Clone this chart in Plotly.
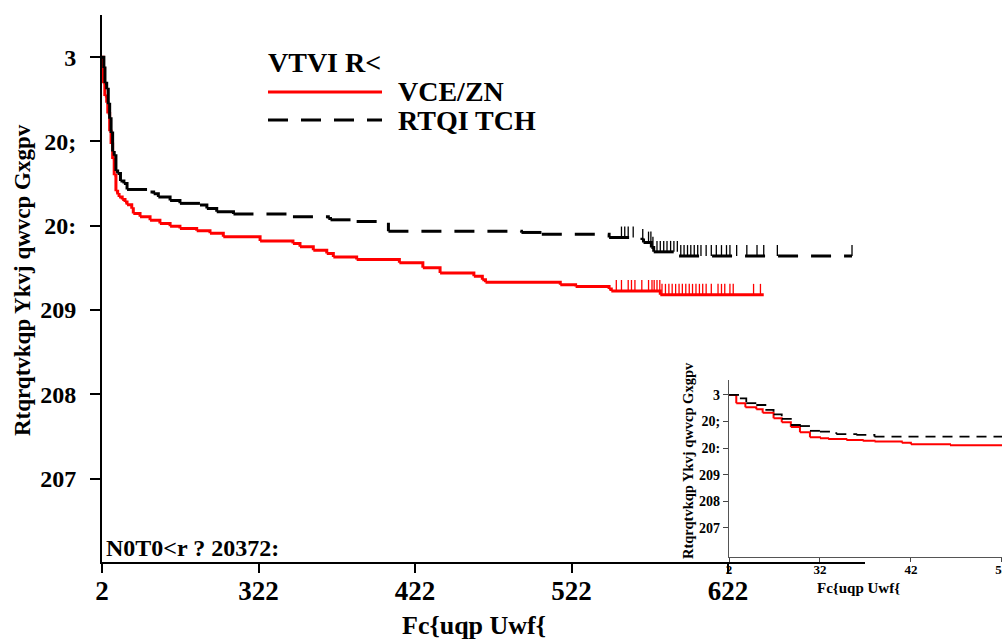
import numpy as np
import plotly.graph_objects as go

# ---------------- data ----------------
black_t = [0, 1.2, 1.9, 3.0, 4.0, 4.9, 5.8, 6.8, 7.8, 8.9, 10.0, 11.8, 14.0, 16.0, 31, 33, 36,
           43.5, 49.8, 62.6, 67, 73.3, 84, 122, 144.6, 146, 162.7, 183, 268, 281, 324, 345,
           346, 351, 352.5, 368.7]
black_s = [1.0, 0.987, 0.969, 0.962, 0.944, 0.927, 0.910, 0.887, 0.883, 0.865, 0.862, 0.853,
           0.850, 0.843, 0.840, 0.838, 0.834, 0.830, 0.8265, 0.8245, 0.8205, 0.8165, 0.814,
           0.8105, 0.8087, 0.807, 0.805, 0.7934, 0.792, 0.790, 0.786, 0.783, 0.780, 0.774,
           0.769, 0.764]
black_end = 479.2
black_cens = [331.9, 334, 336.2, 339.4, 345.5, 349.2, 350.7, 352, 354.6, 356.7, 358.9, 361,
              363.3, 365.4, 367.6, 369.8, 371.9, 374.1, 376.2, 378.4, 380.6, 382.7, 386,
              389.3, 392.5, 395.8, 399, 401.2, 405.5, 412, 418.5, 422.8, 431.5, 479.2]

red_t = [0, 0.8, 1.8, 3.0, 3.7, 4.9, 5.8, 6.8, 7.8, 8.9, 10.0, 10.9, 12.9, 14.7, 16, 19, 20,
         24.3, 30.7, 37, 43.5, 49.8, 60.5, 69, 77.5, 101, 122, 126.5, 135, 143.6, 147.8,
         162.7, 190, 205, 216, 237.6, 243, 245, 292.8, 302.6, 324, 325.4, 356.7]
red_s = [1.0, 0.969, 0.954, 0.946, 0.933, 0.912, 0.897, 0.879, 0.860, 0.841, 0.837, 0.834,
         0.831, 0.828, 0.825, 0.820, 0.8145, 0.8105, 0.8066, 0.8027, 0.7995, 0.7968, 0.794,
         0.791, 0.787, 0.782, 0.779, 0.775, 0.771, 0.767, 0.763, 0.760, 0.756, 0.750, 0.744,
         0.740, 0.736, 0.733, 0.730, 0.728, 0.725, 0.7226, 0.718]
red_end = 422.8
red_cens = [328.6, 331.9, 336.2, 338.3, 340.5, 344.9, 349.2, 351.4, 352.8, 354.6, 356.4,
            357.8, 360, 362.2, 364.3, 366.5, 368.7, 370.8, 373, 375.2, 377.3, 379.5, 381.7,
            383.8, 386, 389.3, 393.6, 395.8, 397.9, 401.2, 403.3, 416.3, 420.7]

# tick labels as displayed
main_x_vals = [0, 100, 200, 300, 400]
main_x_text = ["2", "322", "422", "522", "622"]
y_vals = [1.0, 0.9, 0.8, 0.7, 0.6, 0.5]
y_text = ["3", "20;", "20:", "209", "208", "207"]
inset_x_vals = [0, 10, 20, 30]
inset_x_text = ["2", "32", "42", "52"]

x_title = "Fc{uqp Uwf{"
y_title = "Rtqrqtvkqp Ykvj qwvcp Gxgpv"
legend_title = "VTVI R<"
name_red = "VCE/ZN"
name_black = "RTQI TCH"
pval_text = "N0T0<r ? 20372:"

FONT = "Liberation Serif"


def step_xy(t, s, end):
    xs, ys = [], []
    n = len(t)
    for i in range(n):
        x1 = t[i + 1] if i + 1 < n else end
        xs += [t[i], x1]
        ys += [s[i], s[i]]
        if i + 1 < n:
            xs.append(x1)
            ys.append(s[i + 1])
        xs.append(None)
        ys.append(None)
    return xs, ys


def cens_xy(t, s, cens, h):
    t = np.asarray(t)
    xs, ys = [], []
    for c in cens:
        idx = int(np.searchsorted(t, c, side="right") - 1)
        v = s[idx]
        xs += [c, c, None]
        ys += [v, v + h, None]
    return xs, ys


fig = go.Figure()

rx, ry = step_xy(red_t, red_s, red_end)
bx, by = step_xy(black_t, black_s, black_end)
rcx, rcy = cens_xy(red_t, red_s, red_cens, 0.013)
bcx, bcy = cens_xy(black_t, black_s, black_cens, 0.013)

# main panel
fig.add_trace(go.Scatter(x=rx, y=ry, mode="lines", line=dict(color="#ff0000", width=3),
                         connectgaps=False, showlegend=False, hoverinfo="skip"))
fig.add_trace(go.Scatter(x=rcx, y=rcy, mode="lines", line=dict(color="#ff0000", width=1.3),
                         showlegend=False, hoverinfo="skip"))
fig.add_trace(go.Scatter(x=bx, y=by, mode="lines",
                         line=dict(color="black", width=3, dash="20px,13px"),
                         connectgaps=False, showlegend=False, hoverinfo="skip"))
fig.add_trace(go.Scatter(x=bcx, y=bcy, mode="lines", line=dict(color="black", width=1.3),
                         showlegend=False, hoverinfo="skip"))

# inset panel
fig.add_trace(go.Scatter(x=rx, y=ry, mode="lines", line=dict(color="#ff0000", width=2),
                         connectgaps=False, showlegend=False, hoverinfo="skip",
                         xaxis="x2", yaxis="y2"))
fig.add_trace(go.Scatter(x=bx, y=by, mode="lines",
                         line=dict(color="black", width=1.8, dash="10px,7px"),
                         connectgaps=False, showlegend=False, hoverinfo="skip",
                         xaxis="x2", yaxis="y2"))

W, H = 1002, 639


def px(x):
    return x / W


def py(y):
    return 1 - y / H


fig.update_layout(
    width=W, height=H, autosize=False,
    margin=dict(l=0, r=0, t=0, b=0, autoexpand=False),
    paper_bgcolor="white", plot_bgcolor="rgba(0,0,0,0)",
    showlegend=False,
    xaxis=dict(domain=[px(102), px(865)], range=[0, 487.5], tickmode="array",
               tickvals=main_x_vals, ticktext=main_x_text, ticks="outside", ticklen=9,
               tickwidth=1.5, tickcolor="black", showline=True, linecolor="black",
               linewidth=1.8, showgrid=False, zeroline=False, ticklabelstandoff=-5,
               automargin=False,
               tickfont=dict(family=FONT, size=27, color="black", weight="bold"),
               anchor="y"),
    yaxis=dict(domain=[py(562), py(15)], range=[0.401, 1.050], tickmode="array",
               tickvals=y_vals, ticktext=y_text, ticks="outside", ticklen=10,
               tickwidth=1.5, tickcolor="black", showline=True, linecolor="black",
               linewidth=1.8, showgrid=False, zeroline=False, ticklabelstandoff=9,
               automargin=False,
               tickfont=dict(family=FONT, size=24, color="black", weight="bold"),
               anchor="x"),
    xaxis2=dict(domain=[px(729), 1.0], range=[0, 30.02], tickmode="array",
                tickvals=inset_x_vals, ticktext=inset_x_text, ticks="outside", ticklen=4,
                tickwidth=1, tickcolor="#444", showline=True, linecolor="#555",
                linewidth=1.2, showgrid=False, zeroline=False, ticklabelstandoff=-4,
                ticklabeloverflow="allow", automargin=False,
                tickfont=dict(family=FONT, size=13, color="black", weight="bold"),
                anchor="y2"),
    yaxis2=dict(domain=[py(557), py(380)], range=[0.391, 1.056], tickmode="array",
                tickvals=y_vals, ticktext=y_text, ticks="outside", ticklen=5,
                tickwidth=1, tickcolor="#444", showline=True, linecolor="#555",
                linewidth=1.2, showgrid=False, zeroline=False, automargin=False,
                tickfont=dict(family=FONT, size=14, color="black", weight="bold"),
                anchor="x2"),
)

ann_font = dict(family=FONT, color="black", weight="bold")
annotations = [
    dict(x=px(474), y=py(625), text=x_title, xanchor="center", font=dict(size=26, **ann_font)),
    dict(x=px(22), y=py(280), text=y_title, textangle=-90, xanchor="center",
         font=dict(size=23, **ann_font)),
    dict(x=px(104), y=py(548), text=pval_text, xanchor="left", font=dict(size=24, **ann_font)),
    dict(x=px(266), y=py(63), text=legend_title, xanchor="left", font=dict(size=28, **ann_font)),
    dict(x=px(396), y=py(92), text=name_red, xanchor="left", font=dict(size=28, **ann_font)),
    dict(x=px(396), y=py(120), text=name_black, xanchor="left", font=dict(size=28, **ann_font)),
    dict(x=px(688), y=py(461), text=y_title, textangle=-90, xanchor="center",
         font=dict(size=14.5, **ann_font)),
    dict(x=px(858), y=py(588), text=x_title, xanchor="center", font=dict(size=15, **ann_font)),
]
for a in annotations:
    a.update(xref="paper", yref="paper", showarrow=False, yanchor="middle")
fig.update_layout(annotations=annotations)

fig.update_layout(shapes=[
    dict(type="line", xref="paper", yref="paper", x0=px(268), x1=px(382), y0=py(92), y1=py(92),
         line=dict(color="#ff0000", width=3)),
    dict(type="line", xref="paper", yref="paper", x0=px(268), x1=px(382), y0=py(120), y1=py(120),
         line=dict(color="black", width=3, dash="20px,13px")),
])

post = ("document.documentElement.style.overflow='hidden';"
        "document.body.style.margin='0';document.body.style.overflow='hidden';")

fig.write_html("out.html", config={"displayModeBar": False}, post_script=post)
